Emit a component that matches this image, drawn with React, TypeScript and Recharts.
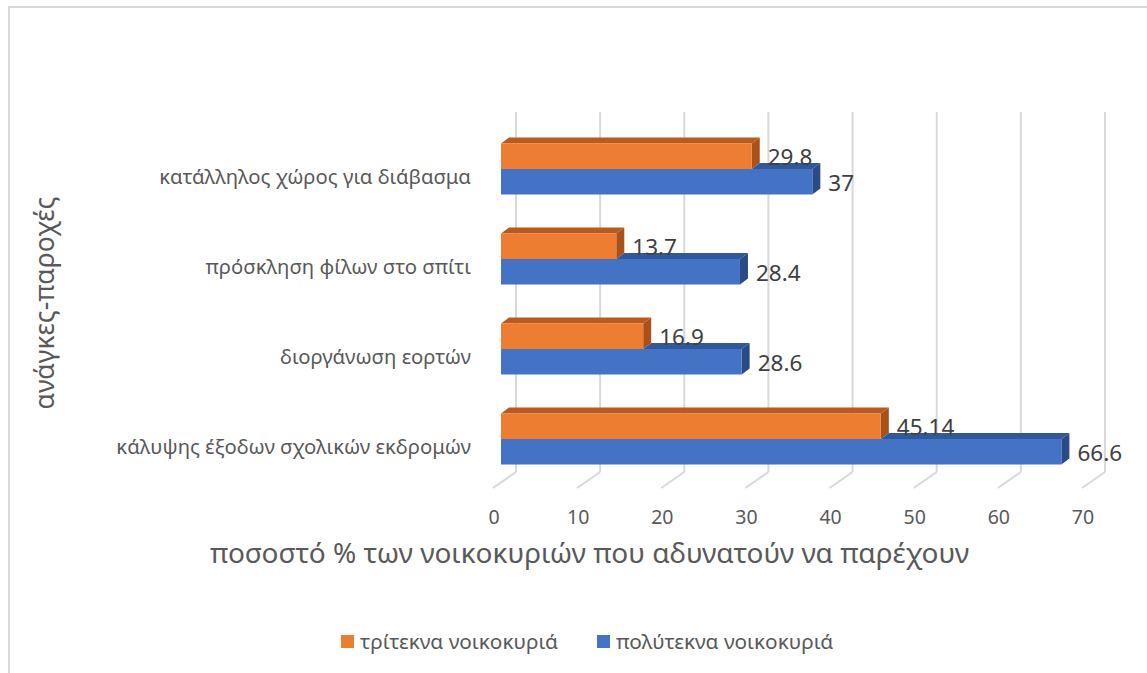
import React from "react";
import { BarChart, Bar, XAxis, YAxis, CartesianGrid, LabelList } from "recharts";

const categories = [
  "κατάλληλος χώρος για διάβασμα",
  "πρόσκληση φίλων στο σπίτι",
  "διοργάνωση εορτών",
  "κάλυψης έξοδων σχολικών εκδρομών",
];
const triteknaValues = [29.8, 13.7, 16.9, 45.14];
const polyteknaValues = [37, 28.4, 28.6, 66.6];
const xTicks = [0, 10, 20, 30, 40, 50, 60, 70];
const seriesNames = ["τρίτεκνα νοικοκυριά", "πολύτεκνα νοικοκυριά"];
const xTitle = "ποσοστό % των νοικοκυριών που αδυνατούν να παρέχουν";
const yTitle = "ανάγκες-παροχές";

const data = categories.map((name, i) => ({
  name,
  tritekna: triteknaValues[i],
  polytekna: polyteknaValues[i],
}));

const FONT = "'Noto Sans', 'Open Sans', sans-serif";
const TEXT = "#595959";
const ORANGE = { front: "#ED7D31", top: "#BC5A1E", side: "#A9511A" };
const BLUE = { front: "#4472C4", top: "#32589C", side: "#2C4A86" };
const DX = 8;
const DY = -6;

// orange bar: full 3d box
const OrangeBar = (p: any) => {
  const { x, y, width: w, height: h } = p;
  return (
    <g>
      <polygon
        points={`${x},${y} ${x + DX},${y + DY} ${x + w + DX},${y + DY} ${x + w},${y}`}
        fill={ORANGE.top}
      />
      <polygon
        points={`${x + w},${y} ${x + w + DX},${y + DY} ${x + w + DX},${y + h + DY} ${x + w},${y + h}`}
        fill={ORANGE.side}
      />
      <rect x={x} y={y} width={w} height={h} fill={ORANGE.front} />
    </g>
  );
};

// blue bar sits under the orange one, so its top face only shows past the orange end
const BlueBar = (p: any) => {
  const { x, y, width: w, height: h, payload } = p;
  const wo = Math.min(w, (w * payload.tritekna) / payload.polytekna);
  return (
    <g>
      <polygon
        points={`${x + wo},${y} ${x + wo + DX},${y + DY} ${x + w + DX},${y + DY} ${x + w},${y}`}
        fill={BLUE.top}
      />
      <polygon
        points={`${x + w},${y} ${x + w + DX},${y + DY} ${x + w + DX},${y + h + DY} ${x + w},${y + h}`}
        fill={BLUE.side}
      />
      <rect x={x} y={y} width={w} height={h} fill={BLUE.front} />
    </g>
  );
};

const ValueLabel = (p: any) => {
  const { x, y, width, height, value } = p;
  return (
    <text
      x={x + width + 16}
      y={y + height / 2 + 1}
      dy="0.35em"
      fill="#404040"
      fontSize={22.5}
      fontFamily={FONT}
    >
      {value}
    </text>
  );
};

const CatTick = (p: any) => (
  <text
    x={p.x}
    y={p.y + 8}
    dy="0.35em"
    textAnchor="end"
    fill={TEXT}
    fontSize={20.3}
    fontFamily={FONT}
  >
    {p.payload.value}
  </text>
);

const NumTick = (p: any) => (
  <text
    x={p.x - 7}
    y={p.y + 34}
    dy="0.35em"
    textAnchor="middle"
    fill={TEXT}
    fontSize={19.5}
    fontFamily={FONT}
  >
    {p.payload.value}
  </text>
);

// back wall line + slanted floor line
const GridLine = (p: any) => {
  const { x1, y1, y2 } = p;
  return (
    <g key={p.key}>
      <line x1={x1 + 15} y1={y1 - 11.5} x2={x1 + 15} y2={y2 - 11.5} stroke="#D9D9D9" strokeWidth={2} />
      <line x1={x1 + 15} y1={y2 - 11.5} x2={x1 - 8} y2={y2 + 4.5} stroke="#D9D9D9" strokeWidth={2} />
    </g>
  );
};

export default function App() {
  return (
    <div
      style={{
        position: "absolute",
        left: 0,
        top: 0,
        width: 1147,
        height: 673,
        background: "#fff",
        overflow: "hidden",
        fontFamily: FONT,
      }}
    >
      <div
        style={{
          position: "absolute",
          left: 8,
          top: 6,
          width: 1300,
          height: 800,
          borderLeft: "2px solid #D9D9D9",
          borderTop: "2px solid #D9D9D9",
        }}
      />
      <div style={{ position: "absolute", left: 0, top: 0 }}>
        <BarChart
          width={1147}
          height={673}
          data={data}
          layout="vertical"
          margin={{ top: 123.5, right: 57, bottom: 149.5, left: 121 }}
          barGap={0}
          barSize={25.5}
        >
          <CartesianGrid horizontal={false} vertical={GridLine as any} />
          <XAxis
            type="number"
            domain={[0, 70]}
            ticks={xTicks}
            height={40}
            axisLine={false}
            tickLine={false}
            tickSize={0}
            tickMargin={0}
            tick={<NumTick />}
            interval={0}
          />
          <YAxis
            type="category"
            dataKey="name"
            width={380}
            axisLine={false}
            tickLine={false}
            tickSize={0}
            tickMargin={30}
            tick={<CatTick />}
            interval={0}
          />
          <Bar dataKey="tritekna" name={seriesNames[0]} fill={ORANGE.front} shape={OrangeBar} isAnimationActive={false}>
            <LabelList dataKey="tritekna" content={ValueLabel} />
          </Bar>
          <Bar dataKey="polytekna" name={seriesNames[1]} fill={BLUE.front} shape={BlueBar} isAnimationActive={false}>
            <LabelList dataKey="polytekna" content={ValueLabel} />
          </Bar>
        </BarChart>
      </div>
      <svg
        width={1147}
        height={673}
        style={{ position: "absolute", left: 0, top: 0, pointerEvents: "none" }}
      >
        <text x={589.5} y={553} dy="0.35em" textAnchor="middle" fill={TEXT} fontSize={28} fontFamily={FONT}>
          {xTitle}
        </text>
        <text
          x={45}
          y={303}
          dy="0.35em"
          textAnchor="middle"
          fill={TEXT}
          fontSize={26.5}
          fontFamily={FONT}
          transform="rotate(-90 45 303)"
        >
          {yTitle}
        </text>
      </svg>
      <div
        style={{
          position: "absolute",
          left: 341,
          top: 627,
          display: "flex",
          alignItems: "center",
          fontSize: 20.8,
          color: TEXT,
          lineHeight: "28px",
        }}
      >
        <span style={{ width: 13, height: 13, background: ORANGE.front, marginRight: 6 }} />
        <span style={{ marginRight: 39 }}>{seriesNames[0]}</span>
        <span style={{ width: 13, height: 13, background: BLUE.front, marginRight: 6 }} />
        <span>{seriesNames[1]}</span>
      </div>
    </div>
  );
}
